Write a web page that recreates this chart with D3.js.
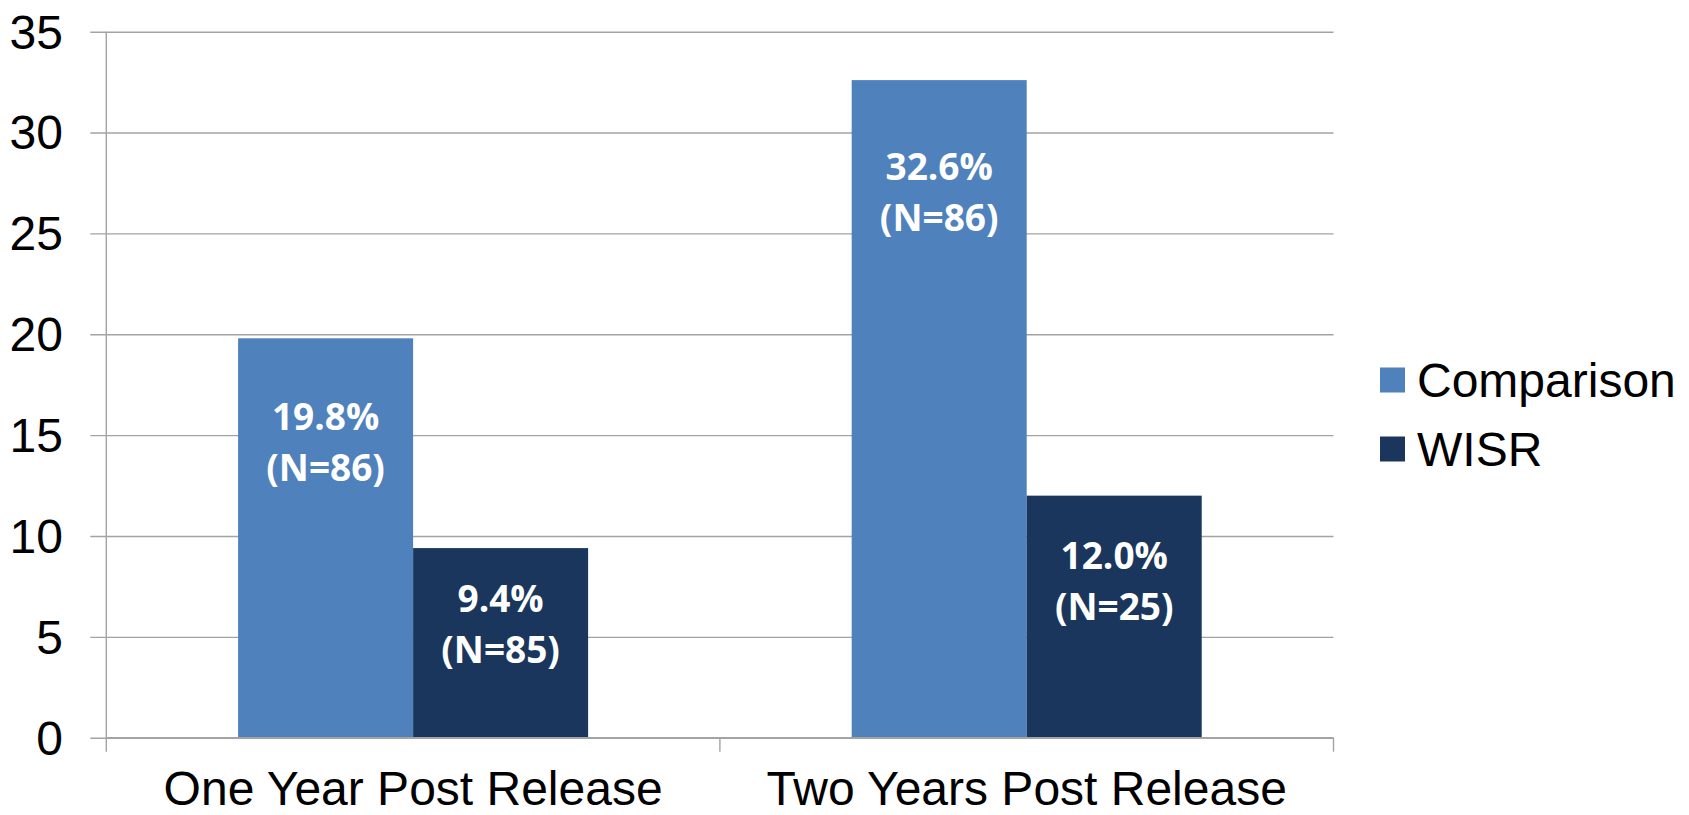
<!DOCTYPE html>
<html>
<head>
<meta charset="utf-8">
<script src="https://cdn.jsdelivr.net/npm/d3@7"></script>
<style>
  html, body { margin: 0; padding: 0; background: #ffffff; }
  svg { display: block; }
</style>
</head>
<body>
<svg id="chart" width="1689" height="815"></svg>
<script>
// Data
const categories = ["One Year Post Release", "Two Years Post Release"];
const seriesNames = ["Comparison", "WISR"];
const comparisonValues = [19.8, 32.6];
const wisrValues = [9.4, 12.0];
const comparisonN = [86, 86];
const wisrN = [85, 25];
const yTicks = [0, 5, 10, 15, 20, 25, 30, 35];

// Layout: baseline of the first label line, in axis units, per bar
const labelBaselineAt = [[15.26, 6.25], [27.66, 8.35]];

const colors = { Comparison: "#4f81bd", WISR: "#1b365d" };
const gridColor = "#a3a3a3";

const svg = d3.select("#chart");
const plot = { left: 106.3, right: 1333.5, top: 31.7, bottom: 737.7 };

const x = d3.scaleBand().domain(categories).range([plot.left, plot.right]).padding(0);
const xSub = d3.scaleBand().domain(seriesNames).range([0, x.bandwidth()])
  .paddingInner(0).paddingOuter(0.753);
const y = d3.scaleLinear().domain([0, 35]).range([plot.bottom, plot.top]);

const rows = categories.map((c, i) => ({
  category: c,
  bars: [
    { series: "Comparison", value: comparisonValues[i], n: comparisonN[i], labelAt: labelBaselineAt[i][0] },
    { series: "WISR", value: wisrValues[i], n: wisrN[i], labelAt: labelBaselineAt[i][1] }
  ]
}));

// Horizontal gridlines with outside tick marks and labels
const yAxis = d3.axisLeft(y).tickValues(yTicks)
  .tickSize(-(plot.right - plot.left) - 16).tickSizeOuter(0).tickPadding(0)
  .tickFormat(d3.format("d"));
const yg = svg.append("g").attr("transform", `translate(${plot.right},0)`).call(yAxis);
yg.select(".domain").remove();
yg.selectAll(".tick line")
  .attr("x1", 0).attr("x2", -(plot.right - plot.left) - 16)
  .attr("stroke", gridColor).attr("stroke-width", 1.4);
yg.selectAll(".tick text")
  .attr("x", -(plot.right - 63))
  .attr("dy", "0.34em")
  .attr("text-anchor", "end")
  .attr("fill", "#000")
  .style("font-family", "Liberation Sans, Arial, sans-serif")
  .style("font-size", "48px");

// Bars
const groups = svg.append("g").selectAll("g.cat").data(rows).join("g")
  .attr("class", "cat")
  .attr("transform", d => `translate(${x(d.category)},0)`);

groups.selectAll("rect").data(d => d.bars).join("rect")
  .attr("x", d => xSub(d.series))
  .attr("y", d => y(d.value))
  .attr("width", xSub.bandwidth())
  .attr("height", d => y(0) - y(d.value))
  .attr("fill", d => colors[d.series]);

// Value labels inside the bars
const labels = groups.selectAll("text.val").data(d => d.bars).join("text")
  .attr("class", "val")
  .attr("text-anchor", "middle")
  .attr("fill", "#ffffff")
  .style("font-family", "Open Sans, sans-serif")
  .style("font-weight", "700")
  .style("font-size", "37px");
labels.append("tspan")
  .attr("x", d => xSub(d.series) + xSub.bandwidth() / 2)
  .attr("y", d => y(d.labelAt))
  .text(d => d.value.toFixed(1) + "%");
labels.append("tspan")
  .attr("x", d => xSub(d.series) + xSub.bandwidth() / 2)
  .attr("y", d => y(d.labelAt) + 51)
  .text(d => `(N=${d.n})`);

// Category axis
const xAxis = d3.axisBottom(x).tickSize(0).tickPadding(0);
const xg = svg.append("g").attr("transform", `translate(0,${plot.bottom})`).call(xAxis);
xg.select(".domain").remove();
xg.selectAll(".tick text")
  .attr("y", 67)
  .attr("dy", 0)
  .attr("fill", "#000")
  .style("font-family", "Liberation Sans, Arial, sans-serif")
  .style("font-size", "48px");

// Axis lines and category dividers
const axisG = svg.append("g").attr("stroke", gridColor).attr("stroke-width", 1.4);
axisG.append("line")
  .attr("x1", plot.left).attr("x2", plot.right)
  .attr("y1", plot.bottom).attr("y2", plot.bottom);
axisG.append("line")
  .attr("x1", plot.left).attr("x2", plot.left)
  .attr("y1", plot.top).attr("y2", plot.bottom + 14);
const dividers = categories.map(c => x(c) + x.bandwidth());
axisG.selectAll("line.div").data(dividers).join("line")
  .attr("class", "div")
  .attr("x1", d => d).attr("x2", d => d)
  .attr("y1", plot.bottom).attr("y2", plot.bottom + 14);

// Legend
const legend = svg.append("g").attr("transform", "translate(1380,367.5)");
const items = legend.selectAll("g").data(seriesNames).join("g")
  .attr("transform", (d, i) => `translate(0,${i * 69})`);
items.append("rect")
  .attr("width", 25).attr("height", 25)
  .attr("fill", d => colors[d]);
items.append("text")
  .attr("x", 37).attr("y", 29.5)
  .attr("fill", "#000")
  .style("font-family", "Liberation Sans, Arial, sans-serif")
  .style("font-size", "48px")
  .text(d => d);
</script>
</body>
</html>
